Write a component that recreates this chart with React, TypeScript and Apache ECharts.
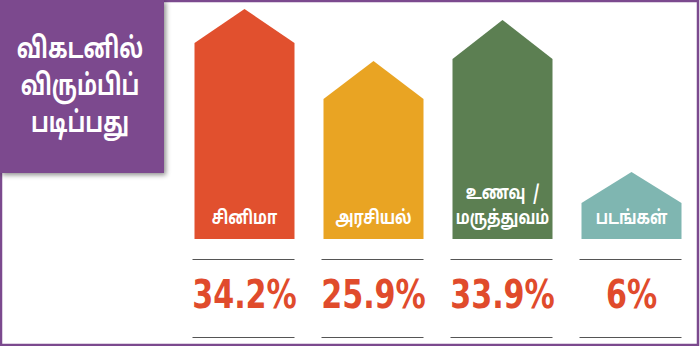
import React, { useEffect, useRef } from "react";
import * as echarts from "echarts";

const categories = ["சினிமா", "அரசியல்", "உணவு  /\nமருத்துவம்", "படங்கள்"];
const percentLabels = ["34.2%", "25.9%", "33.9%", "6%"];
const percentValues = [34.2, 25.9, 33.9, 6];
// drawn heights (pixel units above the base line)
const shoulderHeights = [196, 140, 180, 36];
const apexHeights = [230, 178, 219, 67];
const barColors = ["#E1502E", "#E9A423", "#5C7F52", "#7FB6B1"];
const titleLines = ["விகடனில்", "விரும்பிப்", "படிப்பது"];

const TAMIL = "'Noto Sans Tamil', 'Lohit Tamil', 'Latha', 'Noto Sans', 'DejaVu Sans', sans-serif";

export default function App() {
  const ref = useRef<HTMLDivElement>(null);
  useEffect(() => {
    document.body.style.margin = "0";
    const chart = echarts.init(ref.current!, null, { renderer: "svg" });
    const data = categories.map((c, i) => [i, shoulderHeights[i], apexHeights[i], percentValues[i]]);
    chart.setOption({
      animation: false,
      backgroundColor: "#ffffff",
      grid: { left: 180, right: 4, top: 0, bottom: 107 },
      xAxis: {
        type: "category",
        data: categories,
        show: false,
      },
      yAxis: { type: "value", min: 0, max: 239, show: false },
      series: [
        {
          type: "custom",
          data,
          renderItem: (params: any, api: any) => {
            const idx = api.value(0);
            const base = api.coord([idx, 0]);
            const sh = api.coord([idx, api.value(1)]);
            const ap = api.coord([idx, api.value(2)]);
            const half = 50;
            const cx = base[0];
            const color = barColors[params.dataIndex];
            const lines = String(categories[params.dataIndex]).split("\n");
            const children: any[] = [
              {
                type: "polygon",
                shape: {
                  points: [
                    [cx - half, base[1]],
                    [cx - half, sh[1]],
                    [cx, ap[1]],
                    [cx + half, sh[1]],
                    [cx + half, base[1]],
                  ],
                },
                style: { fill: color },
              },
            ];
            lines.forEach((t, k) => {
              children.push({
                type: "text",
                x: cx,
                y: base[1] - 20 - (lines.length - 1 - k) * 25,
                scaleX: 0.78,
                style: {
                  text: t,
                  fill: "#ffffff",
                  font: `bold 19px ${TAMIL}`,
                  align: "center",
                  verticalAlign: "middle",
                },
              });
            });
            children.push(
              {
                type: "line",
                shape: { x1: cx - 52, y1: base[1] + 20.5, x2: cx + 50, y2: base[1] + 20.5 },
                style: { stroke: "#555555", lineWidth: 1 },
              },
              {
                type: "line",
                shape: { x1: cx - 52, y1: base[1] + 98.5, x2: cx + 50, y2: base[1] + 98.5 },
                style: { stroke: "#555555", lineWidth: 1 },
              },
              {
                type: "text",
                x: cx,
                y: base[1] + 56,
                scaleX: 0.86,
                style: {
                  text: percentLabels[params.dataIndex],
                  fill: "#E04B2C",
                  font: "bold 39px 'DejaVu Sans Condensed', 'Liberation Sans Narrow', sans-serif",
                  align: "center",
                  verticalAlign: "middle",
                },
              }
            );
            return { type: "group", children };
          },
        },
      ],
      graphic: [
        {
          type: "rect",
          shape: { x: 1, y: 1, width: 697, height: 344 },
          style: { fill: "none", stroke: "#7B4A8E", lineWidth: 2.5 },
          z: 100,
        },
        {
          type: "rect",
          shape: { x: 0, y: 0, width: 164, height: 173 },
          style: {
            fill: "#7B4A8E",
            shadowBlur: 5,
            shadowOffsetX: 2,
            shadowOffsetY: 2,
            shadowColor: "rgba(0,0,0,0.45)",
          },
          z: 101,
        },
        ...titleLines.map((t, i) => ({
          type: "text",
          x: 80,
          y: 51 + i * 37,
          scaleX: 0.74,
          style: {
            text: t,
            fill: "#ffffff",
            font: `bold 29px ${TAMIL}`,
            align: "center",
            verticalAlign: "middle",
          },
          z: 102,
        })),
      ],
    });
    return () => chart.dispose();
  }, []);
  return <div ref={ref} style={{ position: "absolute", left: 0, top: 0, width: 700, height: 346 }} />;
}
